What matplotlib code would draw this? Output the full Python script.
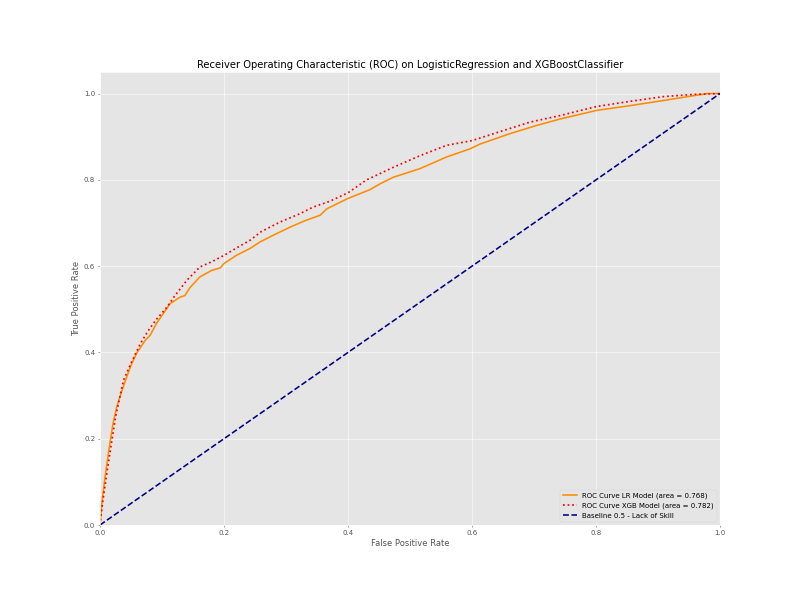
import matplotlib
matplotlib.use("Agg")
import matplotlib.pyplot as plt

plt.style.use("ggplot")

lr_fpr = [0, 0.003, 0.008, 0.016, 0.021, 0.027, 0.035, 0.043, 0.05, 0.059, 0.073, 0.081,
          0.091, 0.102, 0.113, 0.129, 0.137, 0.145, 0.161, 0.18, 0.194, 0.2, 0.22, 0.242,
          0.258, 0.28, 0.306, 0.33, 0.355, 0.366, 0.4, 0.435, 0.452, 0.473, 0.516, 0.559,
          0.597, 0.613, 0.661, 0.704, 0.742, 0.801, 0.855, 0.909, 0.957, 0.98, 1.0]
lr_tpr = [0, 0.05, 0.11, 0.19, 0.235, 0.274, 0.31, 0.343, 0.37, 0.398, 0.428, 0.44,
          0.467, 0.49, 0.513, 0.528, 0.532, 0.55, 0.575, 0.59, 0.596, 0.606, 0.625, 0.641,
          0.656, 0.672, 0.69, 0.705, 0.718, 0.733, 0.757, 0.777, 0.791, 0.806, 0.826, 0.853,
          0.872, 0.883, 0.907, 0.926, 0.941, 0.961, 0.972, 0.984, 0.995, 1.0, 1.0]

xgb_fpr = [0, 0.004, 0.009, 0.016, 0.025, 0.038, 0.05, 0.065, 0.078, 0.09, 0.108, 0.12,
           0.14, 0.161, 0.18, 0.2, 0.22, 0.242, 0.26, 0.29, 0.32, 0.344, 0.37, 0.4, 0.43,
           0.473, 0.516, 0.559, 0.6, 0.65, 0.694, 0.742, 0.801, 0.855, 0.909, 0.957, 1.0]
xgb_tpr = [0, 0.05, 0.1, 0.167, 0.25, 0.336, 0.375, 0.42, 0.451, 0.475, 0.505, 0.53,
           0.567, 0.598, 0.61, 0.625, 0.642, 0.66, 0.68, 0.702, 0.72, 0.737, 0.75, 0.77, 0.80,
           0.829, 0.856, 0.88, 0.891, 0.914, 0.934, 0.949, 0.97, 0.982, 0.993, 0.998, 1.0]

base = [0, 1]

lr_auc = 0.768
xgb_auc = 0.782

fig = plt.figure(figsize=(16, 12), dpi=50)
ax = fig.add_axes([0.125, 0.125, 0.775, 0.755])

ax.plot(lr_fpr, lr_tpr, color="darkorange", lw=2.3,
        label="ROC Curve LR Model (area = %0.3f)" % lr_auc)
ax.plot(xgb_fpr, xgb_tpr, color="red", lw=2.5, linestyle=":",
        label="ROC Curve XGB Model (area = %0.3f)" % xgb_auc)
ax.plot(base, base, color="navy", lw=2.3, linestyle="--",
        label="Baseline 0.5 - Lack of Skill")

ax.set_xlim(0.0, 1.0)
ax.set_ylim(0.0, 1.05)
ax.set_xlabel("False Positive Rate")
ax.set_ylabel("True Positive Rate")
ax.set_title("Receiver Operating Characteristic (ROC) on LogisticRegression and XGBoostClassifier",
             color="black")
ax.legend(loc="lower right")

fig.savefig("out.png", dpi=50)
